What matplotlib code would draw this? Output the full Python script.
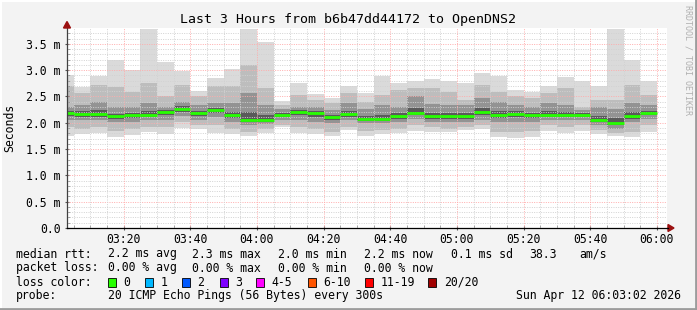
import matplotlib
matplotlib.use("Agg")
import matplotlib.pyplot as plt
from matplotlib.lines import Line2D
from matplotlib.patches import Rectangle, Polygon
import numpy as np

# ---------------- data (ms) ----------------
# one bar per 5-minute step, starting 03:00 (minutes since 03:00)
bar_start_min = [5 * k for k in range(36)]
rtt_max = [2.91, 2.67, 2.88, 3.19, 3.00, 3.78, 3.16, 2.98, 2.60, 2.85,
           3.02, 3.78, 3.54, 2.41, 2.76, 2.55, 2.47, 2.70, 2.57, 2.88,
           2.75, 2.79, 2.83, 2.79, 2.75, 2.94, 2.89, 2.62, 2.58, 2.69,
           2.86, 2.79, 2.69, 3.78, 3.19, 2.79]
rtt_p90 = [2.69, 2.56, 2.71, 2.67, 2.59, 2.75, 2.50, 2.72, 2.50, 2.70,
           2.69, 3.10, 2.66, 2.33, 2.53, 2.43, 2.37, 2.56, 2.40, 2.53,
           2.63, 2.66, 2.66, 2.59, 2.43, 2.72, 2.59, 2.50, 2.47, 2.56,
           2.66, 2.30, 2.43, 2.43, 2.72, 2.53]
rtt_p75 = [2.30, 2.33, 2.39, 2.30, 2.30, 2.37, 2.30, 2.40, 2.33, 2.37,
           2.37, 2.56, 2.33, 2.27, 2.30, 2.30, 2.24, 2.37, 2.27, 2.33,
           2.30, 2.50, 2.35, 2.33, 2.33, 2.47, 2.40, 2.33, 2.30, 2.37,
           2.33, 2.24, 2.30, 2.27, 2.37, 2.33]
rtt_median = [2.19, 2.17, 2.17, 2.12, 2.14, 2.15, 2.21, 2.27, 2.18, 2.25,
              2.14, 2.06, 2.06, 2.15, 2.21, 2.18, 2.10, 2.17, 2.08, 2.08,
              2.13, 2.19, 2.12, 2.12, 2.12, 2.21, 2.15, 2.17, 2.14, 2.15,
              2.15, 2.15, 2.05, 2.00, 2.12, 2.19]
rtt_p25 = [2.05, 2.05, 2.05, 2.01, 2.02, 2.05, 2.05, 2.12, 2.05, 2.10,
           2.02, 1.96, 1.97, 2.05, 2.05, 2.02, 1.99, 2.05, 1.99, 1.99,
           2.02, 2.08, 2.02, 2.02, 2.02, 2.05, 2.02, 2.02, 2.02, 2.05,
           2.05, 2.05, 1.96, 1.89, 2.02, 2.08]
rtt_p10 = [1.92, 1.89, 1.92, 1.84, 1.89, 1.92, 1.92, 2.02, 1.96, 1.95,
           1.89, 1.83, 1.89, 1.96, 1.92, 1.89, 1.83, 1.92, 1.84, 1.86,
           1.89, 1.96, 1.92, 1.89, 1.92, 1.96, 1.83, 1.83, 1.84, 1.96,
           1.92, 1.96, 1.86, 1.80, 1.83, 1.96]
rtt_min = [1.74, 1.78, 1.80, 1.72, 1.77, 1.82, 1.78, 1.90, 1.88, 1.81,
           1.79, 1.74, 1.81, 1.91, 1.80, 1.78, 1.74, 1.86, 1.74, 1.78,
           1.80, 1.84, 1.83, 1.82, 1.86, 1.89, 1.72, 1.71, 1.72, 1.84,
           1.80, 1.84, 1.78, 1.74, 1.72, 1.83]

x_tick_minutes = [20, 40, 60, 80, 100, 120, 140, 160, 180]
x_tick_labels = ["03:20", "03:40", "04:00", "04:20", "04:40", "05:00", "05:20", "05:40", "06:00"]
y_tick_values = [0.0, 0.5, 1.0, 1.5, 2.0, 2.5, 3.0, 3.5]
y_tick_labels = ["0.0", "0.5 m", "1.0 m", "1.5 m", "2.0 m", "2.5 m", "3.0 m", "3.5 m"]

title = "Last 3 Hours from b6b47dd44172 to OpenDNS2"
rtt_items = ["2.2 ms avg", "2.3 ms max", "2.0 ms min", "2.2 ms now", "0.1 ms sd", "38.3", "am/s"]
loss_items = ["0.00 % avg", "0.00 % max", "0.00 % min", "0.00 % now"]
loss_color_labels = ["0", "1", "2", "3", "4-5", "6-10", "11-19", "20/20"]
loss_colors = ["#26ff00", "#00b8ff", "#0059ff", "#7e00ff", "#ff00ff", "#ff5500", "#ff0000", "#a10000"]
probe_text = "20 ICMP Echo Pings (56 Bytes) every 300s"
stamp_text = "Sun Apr 12 06:03:02 2026"

# ---------------- figure ----------------
W, H = 697, 310
fig = plt.figure(figsize=(W / 100, H / 100), dpi=100, facecolor="#f3f3f3")
MONO = "DejaVu Sans Mono"
FS = 8.3

def fx(px):
    return px / W

def fy(py):
    return 1 - py / H

ax_l, ax_r, ax_t, ax_b = 67, 667, 28, 228
ax = fig.add_axes([fx(ax_l), fy(ax_b), (ax_r - ax_l) / W, (ax_b - ax_t) / H])
ax.set_facecolor("white")
x0 = 3.033
ax.set_xlim(x0, x0 + 180)
ax.set_ylim(0, 3.8)

starts = np.array(bar_start_min, dtype=float)
w = 5.0
smoke = [
    (rtt_min, rtt_max, "#dadada"),
    (rtt_p10, rtt_p90, "#bdbdbd"),
    (rtt_p25, rtt_p75, "#939393"),
]
for lo, hi, col in smoke:
    lo = np.array(lo); hi = np.array(hi)
    ax.bar(starts, hi - lo, bottom=lo, width=w, align="edge", color=col,
           linewidth=0, zorder=1)
# darker core around the median line
lo = np.array(rtt_p25); hi = np.array(rtt_p75); md = np.array(rtt_median)
ax.bar(starts, (md - lo) * 0.45 + (hi - md) * 0.3, bottom=md - (md - lo) * 0.45,
       width=w, align="edge", color="#5a5a5a", linewidth=0, zorder=1.5)

# grid (drawn over the smoke, like rrdtool)
for v in np.arange(0.1, 3.8, 0.1):
    major = abs(v / 0.5 - round(v / 0.5)) < 1e-6
    ax.axhline(v, color="#ffacac" if major else "#d2d2d2", lw=0.7,
               ls=(0, (1, 1.4)), zorder=2)
for m in range(5, 185, 5):
    major = m % 20 == 0
    ax.axvline(m, color="#ffacac" if major else "#d2d2d2", lw=0.7,
               ls=(0, (1, 1.4)), zorder=2)

ax.hlines(rtt_median, starts, starts + w, color=loss_colors[0], lw=2.0, zorder=3)

ax.set_xticks(x_tick_minutes)
ax.set_xticklabels(x_tick_labels, fontfamily=MONO, fontsize=FS)
ax.set_yticks(y_tick_values)
ax.set_yticklabels(y_tick_labels, fontfamily=MONO, fontsize=FS)
ax.set_xticks(list(range(5, 185, 5)), minor=True)
ax.set_yticks(list(np.arange(0.1, 3.8, 0.1)), minor=True)
ax.tick_params(axis="both", which="major", length=3, direction="inout", color="#555555")
ax.tick_params(axis="both", which="minor", length=2, direction="in", color="#888888")
ax.tick_params(axis="y", pad=3)
ax.tick_params(axis="x", pad=2)
for s in ["top", "right"]:
    ax.spines[s].set_visible(False)
ax.spines["left"].set_color("#404040")
ax.spines["bottom"].set_color("#000000")
ax.spines["left"].set_linewidth(0.9)
ax.spines["bottom"].set_linewidth(0.9)
ax.spines["left"].set_zorder(4)
ax.spines["bottom"].set_zorder(4)

# arrows
arrow_col = "#9b1010"
fig.patches.append(Polygon([[fx(668), fy(224.5)], [fx(674), fy(228)], [fx(668), fy(231.5)]],
                           closed=True, transform=fig.transFigure, color=arrow_col))
fig.lines.append(Line2D([fx(667), fx(668)], [fy(228), fy(228)], transform=fig.transFigure, color="black", lw=0.9))
fig.patches.append(Polygon([[fx(63.5), fy(28)], [fx(67), fy(21.5)], [fx(70.5), fy(28)]],
                           closed=True, transform=fig.transFigure, color=arrow_col))

# frame (3d border)
fig.lines.append(Line2D([0, 1], [fy(0.5), fy(0.5)], transform=fig.transFigure, color="#ffffff", lw=1.5))
fig.lines.append(Line2D([fx(0.5), fx(0.5)], [0, 1], transform=fig.transFigure, color="#ffffff", lw=1.5))
fig.lines.append(Line2D([0, 1], [fy(309), fy(309)], transform=fig.transFigure, color="#9c9c9c", lw=2))
fig.lines.append(Line2D([fx(696), fx(696)], [0, 1], transform=fig.transFigure, color="#9c9c9c", lw=2))

# texts
fig.text(0.5, fy(19), title, ha="center", va="center", fontfamily=MONO, fontsize=9.5)
fig.text(fx(10), fy(128), "Seconds", rotation=90, ha="center", va="center", fontfamily=MONO, fontsize=FS)
fig.text(fx(688), fy(5), "RRDTOOL / TOBI OETIKER", rotation=270, ha="center", va="top",
         fontfamily=MONO, fontsize=6, color="#b0b0b0")

row_y = [254, 268, 282, 296]
fig.text(fx(16), fy(row_y[0]), "median rtt:", ha="left", va="center", fontfamily=MONO, fontsize=FS)
for xp, t in zip([107.5, 192.5, 278.5, 364, 451, 529, 579], rtt_items):
    fig.text(fx(xp), fy(row_y[0]), t, ha="left", va="center", fontfamily=MONO, fontsize=FS)
fig.text(fx(16), fy(row_y[1]), "packet loss:", ha="left", va="center", fontfamily=MONO, fontsize=FS)
for xp, t in zip([107.5, 192.5, 278.5, 364], loss_items):
    fig.text(fx(xp), fy(row_y[1]), t, ha="left", va="center", fontfamily=MONO, fontsize=FS)
fig.text(fx(16), fy(row_y[2]), "loss color:", ha="left", va="center", fontfamily=MONO, fontsize=FS)
box_x = [108, 145.3, 182, 219.6, 256.4, 307.6, 365.3, 428.4]
for bx, lab, col in zip(box_x, loss_color_labels, loss_colors):
    fig.patches.append(Rectangle((fx(bx), fy(row_y[2] + 4.5)), 8 / W, 9 / H,
                                 transform=fig.transFigure, facecolor=col,
                                 edgecolor="black", lw=0.6))
    fig.text(fx(bx + 15.5), fy(row_y[2]), lab, ha="left", va="center", fontfamily=MONO, fontsize=FS)
fig.text(fx(16), fy(row_y[3]), "probe:", ha="left", va="center", fontfamily=MONO, fontsize=FS)
fig.text(fx(107.5), fy(row_y[3]), probe_text, ha="left", va="center", fontfamily=MONO, fontsize=FS)
fig.text(fx(681), fy(row_y[3]), stamp_text, ha="right", va="center", fontfamily=MONO, fontsize=FS)

fig.savefig("out.png", dpi=100, facecolor=fig.get_facecolor())
